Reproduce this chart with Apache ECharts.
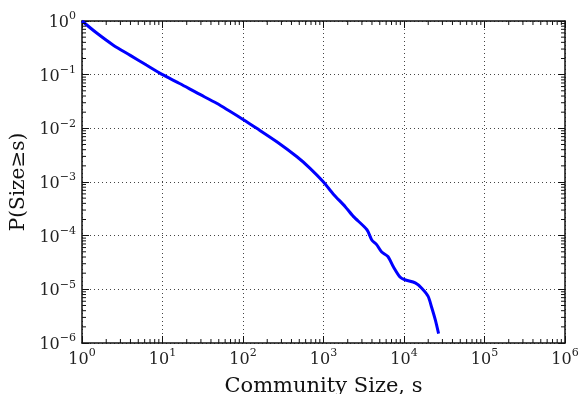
<!DOCTYPE html>
<html>
<head>
<meta charset="utf-8">
<script src="https://cdn.jsdelivr.net/npm/echarts@6/dist/echarts.min.js"></script>
<style>
html,body{margin:0;padding:0;background:#fff;}
#chart{width:581px;height:394px;}
</style>
</head>
<body>
<div id="chart"></div>
<script>
// Community size s (x) and complementary CDF P(Size >= s) (y)
const communitySize = [1, 1.51, 2.45, 3.98, 6.31, 10, 16.6, 27.5, 47.1, 99, 148, 263, 468, 676, 1000, 1318, 1862, 2344, 3467, 3981, 4571, 5248, 6310, 7413, 8913, 10233, 13800, 16600, 19950, 21900, 24500, 26900];
const probGE = [1, 0.603, 0.355, 0.229, 0.151, 0.1, 0.0676, 0.0447, 0.0293, 0.0148, 0.01, 0.00562, 0.00295, 0.00182, 0.001, 0.0006, 0.000347, 0.000229, 0.000129, 8.3e-5, 6.8e-5, 5.0e-5, 4.1e-5, 2.6e-5, 1.7e-5, 1.51e-5, 1.32e-5, 1.05e-5, 7.4e-6, 4.8e-6, 2.7e-6, 1.5e-6];

const xMin = 1, xMax = 1e6;
const yMin = 1e-6, yMax = 1;
const xLabel = 'Community Size, s';
const yLabel = 'P(Size\u2265s)';

const FONT = 'DejaVu Serif';

function expLabel(v) {
  const e = Math.round(Math.log10(v));
  const s = (e < 0 ? '\u2212' + (-e) : '' + e);
  return '{b|10}{s|' + s + '}';
}
const richLabel = {
  b: { fontFamily: FONT, fontSize: 16, color: '#222', lineHeight: 20, verticalAlign: 'bottom' },
  s: { fontFamily: FONT, fontSize: 11, color: '#222', lineHeight: 20, verticalAlign: 'top' }
};

function minorValues(lo, hi) {
  const out = [];
  for (let e = Math.round(Math.log10(lo)); e < Math.round(Math.log10(hi)); e++) {
    for (let m = 2; m <= 9; m++) out.push(m * Math.pow(10, e));
  }
  return out;
}
const xMinor = minorValues(xMin, xMax);
const yMinor = minorValues(yMin, yMax);

const axisLine = { show: true, lineStyle: { color: '#111', width: 1.5 } };
const grid = { left: 82, right: 16, top: 21, bottom: 51, containLabel: false, outerBoundsMode: 'none' };

const chart = echarts.init(document.getElementById('chart'));

const minorTickData = xMinor.map(v => ['x', v]).concat(yMinor.map(v => ['y', v]));

chart.setOption({
  animation: false,
  backgroundColor: '#fff',
  grid: grid,
  xAxis: [{
    type: 'log', logBase: 10, min: xMin, max: xMax,
    name: xLabel, nameLocation: 'middle', nameGap: 33,
    nameTextStyle: { fontFamily: FONT, fontSize: 21, color: '#111' },
    axisLine: axisLine,
    axisTick: { show: true, inside: true, length: 7, lineStyle: { color: '#111', width: 1 } },
    axisLabel: { formatter: expLabel, rich: richLabel, margin: 5 },
    splitLine: { show: true, lineStyle: { color: '#444', width: 1, type: [1, 3] } }
  }, {
    type: 'log', logBase: 10, min: xMin, max: xMax, position: 'top',
    axisLine: axisLine,
    axisTick: { show: true, inside: true, length: 7, lineStyle: { color: '#111', width: 1 } },
    axisLabel: { show: false },
    splitLine: { show: false }
  }],
  yAxis: [{
    type: 'log', logBase: 10, min: yMin, max: yMax,
    name: yLabel, nameLocation: 'middle', nameGap: 52, nameRotate: 90,
    nameTextStyle: { fontFamily: FONT, fontSize: 20, color: '#111' },
    axisLine: axisLine,
    axisTick: { show: true, inside: true, length: 7, lineStyle: { color: '#111', width: 1 } },
    axisLabel: { formatter: expLabel, rich: richLabel, margin: 6 },
    splitLine: { show: true, lineStyle: { color: '#444', width: 1, type: [1, 3] } }
  }, {
    type: 'log', logBase: 10, min: yMin, max: yMax, position: 'right',
    axisLine: axisLine,
    axisTick: { show: true, inside: true, length: 7, lineStyle: { color: '#111', width: 1 } },
    axisLabel: { show: false },
    splitLine: { show: false }
  }],
  series: [{
    type: 'line',
    xAxisIndex: 0, yAxisIndex: 0,
    data: communitySize.map((s, i) => [s, probGE[i]]),
    showSymbol: false,
    smooth: 0.25,
    lineStyle: { color: '#0000ff', width: 3 },
    z: 5
  }, {
    type: 'custom',
    xAxisIndex: 0, yAxisIndex: 0,
    data: minorTickData,
    clip: false,
    silent: true,
    renderItem: function (params, api) {
      const item = minorTickData[params.dataIndex];
      const v = item[1];
      const L = 4;
      const style = { stroke: '#111', lineWidth: 1 };
      if (item[0] === 'x') {
        const b = api.coord([v, yMin]);
        const t = api.coord([v, yMax]);
        return { type: 'group', children: [
          { type: 'line', shape: { x1: b[0], y1: b[1], x2: b[0], y2: b[1] - L }, style: style },
          { type: 'line', shape: { x1: t[0], y1: t[1], x2: t[0], y2: t[1] + L }, style: style }
        ]};
      } else {
        const l = api.coord([xMin, v]);
        const r = api.coord([xMax, v]);
        return { type: 'group', children: [
          { type: 'line', shape: { x1: l[0], y1: l[1], x2: l[0] + L, y2: l[1] }, style: style },
          { type: 'line', shape: { x1: r[0], y1: r[1], x2: r[0] - L, y2: r[1] }, style: style }
        ]};
      }
    },
    z: 6
  }]
});
</script>
</body>
</html>
